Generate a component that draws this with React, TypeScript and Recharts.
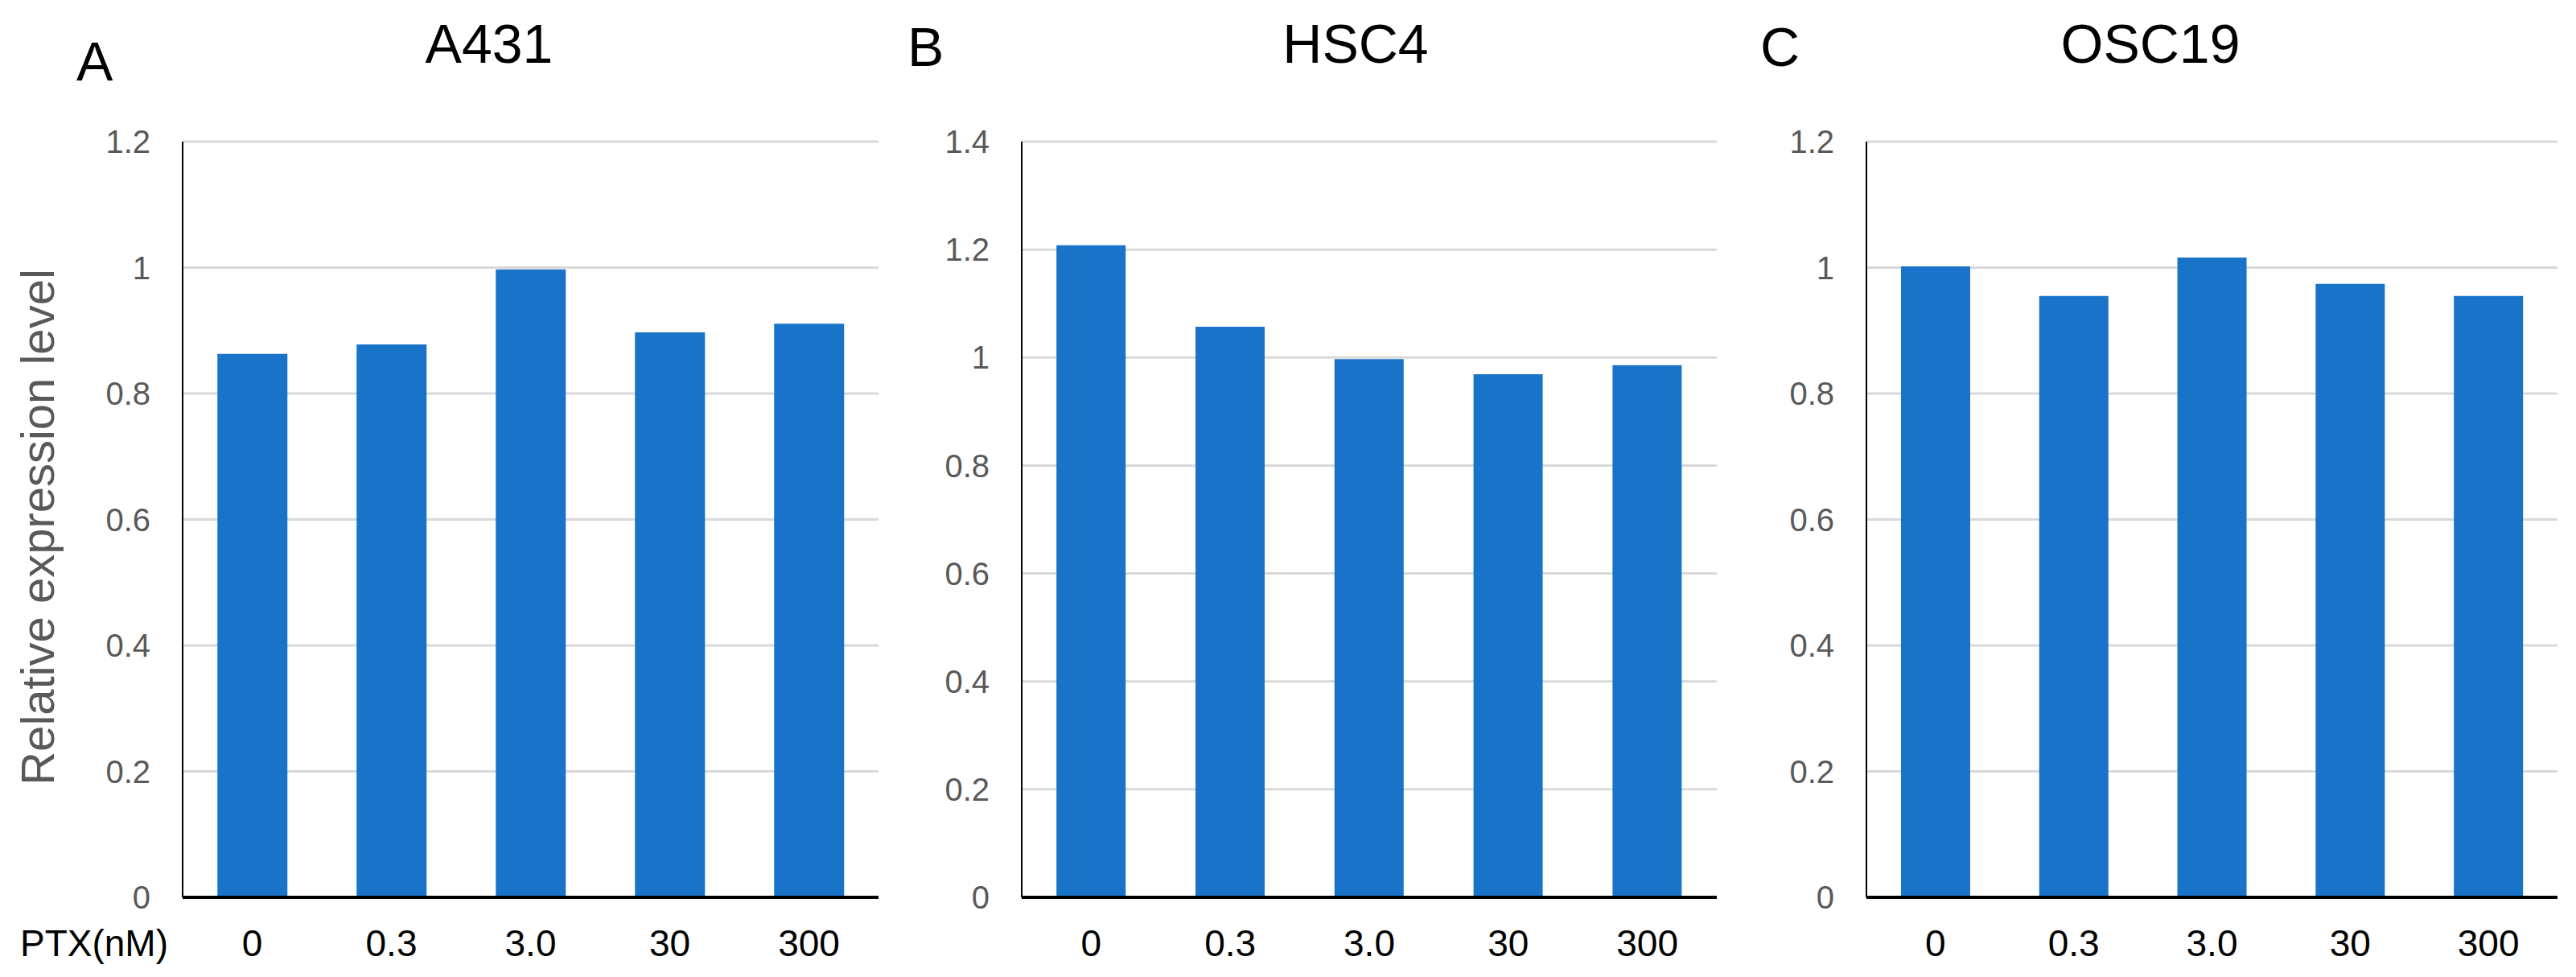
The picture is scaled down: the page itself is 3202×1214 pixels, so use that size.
import { BarChart, Bar, XAxis, YAxis, CartesianGrid } from 'recharts';

const doses = ['0', '0.3', '3.0', '30', '300'];
const a431 = [0.863, 0.878, 0.997, 0.897, 0.911];
const hsc4 = [1.208, 1.057, 0.997, 0.969, 0.986];
const osc19 = [1.002, 0.955, 1.016, 0.974, 0.955];
const ticks12 = [0, 0.2, 0.4, 0.6, 0.8, 1, 1.2];
const ticks14 = [0, 0.2, 0.4, 0.6, 0.8, 1, 1.2, 1.4];

const FONT = '"Liberation Sans", Arial, sans-serif';
const BLUE = '#1873c9';

interface PanelProps {
  left: number;
  width: number;
  marginLeft: number;
  marginRight: number;
  values: number[];
  ticks: number[];
}

function Panel({ left, width, marginLeft, marginRight, values, ticks }: PanelProps) {
  const data = doses.map((dose, i) => ({ dose, value: values[i] }));
  const yMax = ticks[ticks.length - 1];

  return (
    <div style={{ position: 'absolute', left, top: 0 }}>
      <BarChart
        width={width}
        height={1214}
        data={data}
        margin={{ top: 176, right: marginRight, bottom: 19, left: marginLeft }}
        barCategoryGap="25%"
      >
        <CartesianGrid vertical={false} stroke="#d9d9d9" strokeWidth={3} />
        <Bar dataKey="value" fill={BLUE} isAnimationActive={false} />
        <YAxis
          width={80}
          domain={[0, yMax]}
          ticks={ticks}
          interval={0}
          tickLine={false}
          tickSize={0}
          tickMargin={40}
          axisLine={{ stroke: '#000', strokeWidth: 2 }}
          tick={{ fill: '#595959', fontSize: 40, fontFamily: FONT }}
        />
        <XAxis
          dataKey="dose"
          height={80}
          interval={0}
          tickLine={false}
          tickSize={0}
          tickMargin={40}
          axisLine={{ stroke: '#000', strokeWidth: 4 }}
          tick={{ fill: '#000', fontSize: 46, fontFamily: FONT }}
        />
      </BarChart>
    </div>
  );
}

export default function App() {
  return (
    <div style={{ position: 'relative', width: 3202, height: 1214, background: '#fff', fontFamily: FONT }}>
      <style>{'body{margin:0;}'}</style>
      <Panel left={0} width={1130} marginLeft={147} marginRight={38} values={a431} ticks={ticks12} />
      <Panel left={1130} width={1060} marginLeft={60} marginRight={56} values={hsc4} ticks={ticks14} />
      <Panel left={2190} width={1012} marginLeft={50} marginRight={23} values={osc19} ticks={ticks12} />
      <svg
        width={3202}
        height={1214}
        style={{ position: 'absolute', left: 0, top: 0, pointerEvents: 'none' }}
        fontFamily={FONT}
      >
        <text x={95} y={100} fontSize={68} fill="#000">A</text>
        <text x={1128} y={82} fontSize={68} fill="#000">B</text>
        <text x={2188} y={82} fontSize={68} fill="#000">C</text>
        <text x={608} y={78} fontSize={68} fill="#000" textAnchor="middle">A431</text>
        <text x={1685} y={78} fontSize={68} fill="#000" textAnchor="middle">HSC4</text>
        <text x={2673} y={78} fontSize={68} fill="#000" textAnchor="middle">OSC19</text>
        <text x={25} y={1188} fontSize={46} fill="#000">PTX(nM)</text>
        <text
          x={67}
          y={655}
          fontSize={58}
          fill="#595959"
          textAnchor="middle"
          transform="rotate(-90, 67, 655)"
        >
          Relative expression level
        </text>
      </svg>
    </div>
  );
}
